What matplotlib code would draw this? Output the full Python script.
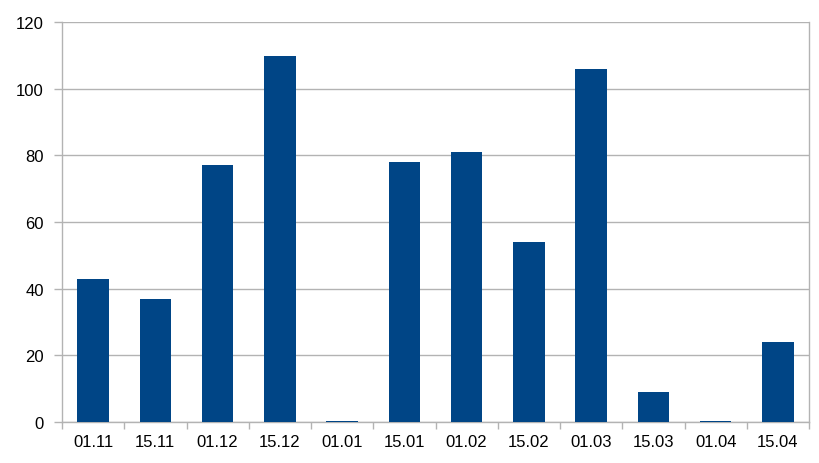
import numpy as np
import matplotlib.pyplot as plt

plt.rcParams['font.family'] = ['Liberation Sans', 'DejaVu Sans']

# data
labels = ['01.11', '15.11', '01.12', '15.12', '01.01', '15.01',
          '01.02', '15.02', '01.03', '15.03', '01.04', '15.04']
values = [43, 37, 77, 110, 0.3, 78, 81, 54, 106, 9, 0.3, 24]

grey = '#b3b3b3'

fig = plt.figure(figsize=(8.19, 4.64), dpi=100)
ax = fig.add_axes([62/819, 1-422.7/464, (809-62)/819, (422.7-23.3)/464])

x = np.arange(len(labels))
ax.bar(x, values, width=0.51, color='#004586', zorder=3)

ax.set_xlim(-0.5, len(labels)-0.5)
ax.set_ylim(0, 120)
ax.set_yticks(range(0, 121, 20))
ax.yaxis.grid(True, color=grey, linewidth=1)
ax.set_axisbelow(True)

# category labels centred, ticks at boundaries
ax.set_xticks(x)
ax.set_xticklabels(labels)
ax.set_xticks(np.arange(-0.5, len(labels), 1), minor=True)
ax.tick_params(axis='x', which='major', length=0, pad=9, labelsize=12, labelcolor='black')
ax.tick_params(axis='x', which='minor', length=5, color=grey, width=1)
ax.tick_params(axis='y', length=6, color=grey, width=1, pad=7, labelsize=12, labelcolor='black')

for side in ['left', 'right', 'bottom']:
    ax.spines[side].set_color(grey)
    ax.spines[side].set_linewidth(1)
ax.spines['top'].set_visible(False)

plt.savefig('out.png', dpi=100)
